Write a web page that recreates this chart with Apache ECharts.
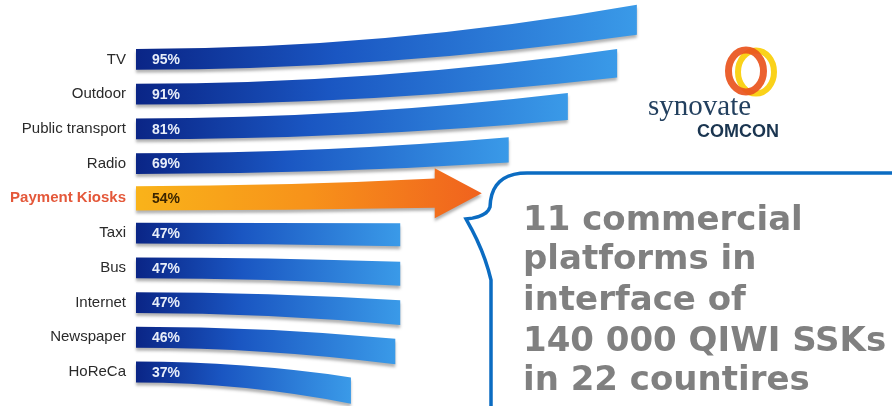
<!DOCTYPE html>
<html><head><meta charset="utf-8">
<script src="https://cdn.jsdelivr.net/npm/echarts@6/dist/echarts.min.js"></script>
<style>html,body{margin:0;padding:0;background:#fff}#c{width:892px;height:406px}</style>
</head><body><div id="c"></div>
<script>
const categories = ['TV','Outdoor','Public transport','Radio','Payment Kiosks','Taxi','Bus','Internet','Newspaper','HoReCa'];
const values = [95, 91, 81, 69, 54, 47, 47, 47, 46, 37];
const highlight = 'Payment Kiosks';
const calloutLines = ['11 commercial', 'platforms in', 'interface of', '140 000 QIWI SSKs', 'in 22 countires'];
const logoWord = 'synovate';
const logoSub = 'COMCON';

const X_MIN = -6.6, X_MAX = 100;
const chart = echarts.init(document.getElementById('c'));

const blueGrad = () => new echarts.graphic.LinearGradient(0, 0, 1, 0, [
  {offset: 0, color: '#0a2586'}, {offset: 0.4, color: '#1a56c2'}, {offset: 1, color: '#3a9ae8'}]);
const orangeGrad = () => new echarts.graphic.LinearGradient(0, 0, 1, 0, [
  {offset: 0, color: '#f9b31a'}, {offset: 0.5, color: '#f7921a'}, {offset: 1, color: '#f0621e'}]);

function renderItem(params, api) {
  const v = api.value(0), idx = api.value(1);
  const p0 = api.coord([X_MIN, idx]), p1 = api.coord([v, idx]);
  const band = api.size([0, 1])[1];
  const i = params.dataIndex;
  const isHi = categories[idx] === highlight;
  const r = i <= 4.6 ? (4.6 - i) * 8.6 : -(i - 4.6) * 4.2;
  const hL = band * (isHi ? 0.7 : 0.6);
  const hR = isHi ? hL * 1.2 : hL * 1.1 + Math.abs(r) * 0.18;
  const x0 = p0[0], x1 = p1[0], yc = p0[1], xm = (x0 + x1) / 2;
  const yt0 = yc - hL / 2, yb0 = yc + hL / 2;
  const yt1 = yc - r - hR / 2, yb1 = yc - r + hR / 2;
  let d;
  if (isHi) {
    const yc2 = yc - r, hh = band * 0.72;
    d = `M${x0} ${yt0} Q${xm} ${yt0} ${x1} ${yt1} L${x1} ${yc2 - hh} L${x1 + 47} ${yc2} L${x1} ${yc2 + hh} L${x1} ${yb1} Q${xm} ${yb0} ${x0} ${yb0} Z`;
  } else {
    d = `M${x0} ${yt0} Q${xm} ${yt0} ${x1} ${yt1} L${x1} ${yb1} Q${xm} ${yb0} ${x0} ${yb0} Z`;
  }
  return {
    type: 'group',
    children: [
      {type: 'path', shape: {pathData: d},
       style: {fill: isHi ? orangeGrad() : blueGrad(), shadowBlur: 3, shadowOffsetY: 3, shadowColor: 'rgba(0,0,0,0.3)'}},
      {type: 'text', x: x0 + 16, y: yc + 1,
       style: {text: v + '%', fill: isHi ? '#3b2500' : '#e8eef9', font: 'bold 14px "Liberation Sans", Arial, sans-serif', verticalAlign: 'middle', align: 'left'}}
    ]
  };
}

function quad(a, c, b, n) {
  const pts = [];
  for (let k = 1; k <= n; k++) {
    const t = k / n, u = 1 - t;
    pts.push([u*u*a[0] + 2*u*t*c[0] + t*t*b[0], u*u*a[1] + 2*u*t*c[1] + t*t*b[1]]);
  }
  return pts;
}
const bubble = [[900, 173], [527, 173]]
  .concat(quad([527, 173], [491, 173], [490, 207], 10))
  .concat(quad([490, 207], [487, 217], [466, 219], 6))
  .concat(quad([466, 219], [484, 250], [491, 280], 6))
  .concat([[491, 420]]);

const graphic = [
  {type: 'polyline', shape: {points: bubble}, style: {stroke: '#0b6cc2', lineWidth: 3.5, fill: null}, z: 10},
  ...calloutLines.map((t, k) => ({
    type: 'text', x: 523, y: [232, 271, 312, 353, 392][k] - 11, z: 11,
    style: {text: t, fill: '#808080', font: 'bold 34px "DejaVu Sans", Verdana, sans-serif', verticalAlign: 'middle', align: 'left'}
  })),
  {type: 'ellipse', shape: {cx: 756, cy: 72, rx: 18, ry: 21.5}, style: {stroke: '#fad21a', lineWidth: 6, fill: null}, z: 10},
  {type: 'ellipse', shape: {cx: 746, cy: 71, rx: 17.5, ry: 21}, style: {stroke: '#e9541d', lineWidth: 7, fill: null, opacity: 0.92}, z: 11},
  {type: 'text', x: 648, y: 107, z: 11, style: {text: logoWord, fill: '#23405f', font: '29px "Liberation Serif", "Times New Roman", serif', verticalAlign: 'middle'}},
  {type: 'text', x: 697, y: 132, z: 11, style: {text: logoSub, fill: '#1a3550', font: 'bold 18px "Liberation Sans", Arial, sans-serif', verticalAlign: 'middle'}}
];

chart.setOption({
  animation: false,
  backgroundColor: '#fff',
  grid: {left: 136, top: 42, width: 525.5, height: 347.4},
  xAxis: {type: 'value', min: X_MIN, max: X_MAX, show: false},
  yAxis: {
    type: 'category', data: categories, inverse: true,
    axisLine: {show: false}, axisTick: {show: false}, splitLine: {show: false},
    axisLabel: {
      margin: 10, fontSize: 15, color: '#2a2a2a', fontFamily: '"Liberation Sans", Arial, sans-serif',
      formatter: (c) => c === highlight ? '{h|' + c + '}' : c,
      rich: {h: {color: '#e4583a', fontWeight: 'bold', fontSize: 15, fontFamily: '"Liberation Sans", Arial, sans-serif'}}
    }
  },
  series: [{
    type: 'custom', renderItem: renderItem, clip: false,
    encode: {x: 0, y: 1},
    data: values.map((v, i) => [v, i])
  }],
  graphic: graphic
});
</script></body></html>
